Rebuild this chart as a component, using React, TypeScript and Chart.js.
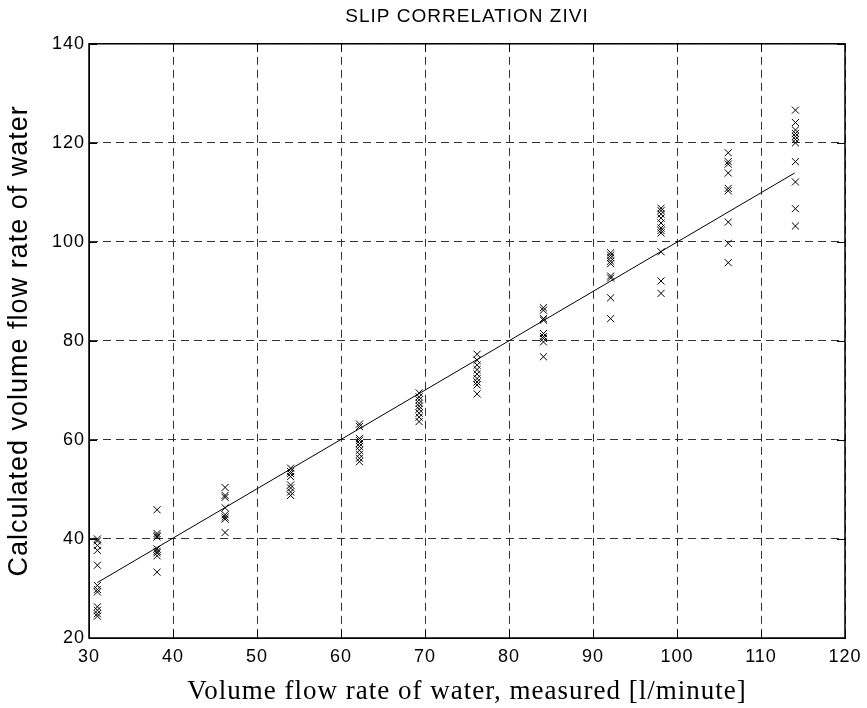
import React, { useEffect, useRef } from "react";
import { Chart, registerables } from "chart.js";

Chart.register(...registerables);

const TITLE = "SLIP CORRELATION ZIVI";
const X_LABEL = "Volume flow rate of water, measured [l/minute]";
const Y_LABEL = "Calculated volume flow rate of water";

// measured flow rates (x positions of clusters)
const measuredFlows = [31.0, 38.1, 46.2, 54.0, 62.2, 69.3, 76.2, 84.1, 92.1, 98.1, 106.1, 114.1];

// calculated values for each measured flow
const calc31 = [40.0, 39.6, 38.7, 37.7, 34.7, 30.6, 29.8, 29.3, 26.3, 25.6, 24.9, 24.4];
const calc38 = [45.9, 41.1, 40.7, 40.4, 38.0, 37.5, 37.2, 36.6, 33.3];
const calc46 = [50.4, 48.8, 48.4, 46.3, 44.9, 44.4, 44.0, 41.3];
const calc54 = [54.3, 53.6, 53.2, 52.6, 50.9, 50.3, 49.5, 48.8];
const calc62 = [63.2, 62.7, 60.3, 59.9, 59.3, 58.7, 57.9, 57.1, 56.3, 55.6];
const calc69 = [69.5, 68.7, 68.1, 67.4, 66.8, 66.2, 65.4, 64.6, 63.7];
const calc76 = [77.3, 76.1, 75.1, 74.2, 73.3, 72.4, 71.7, 71.1, 69.3];
const calc84 = [86.7, 86.2, 84.5, 84.2, 81.5, 80.9, 80.5, 79.8, 76.8];
const calc92 = [97.8, 97.3, 96.8, 96.1, 95.6, 93.1, 92.7, 88.7, 84.5];
const calc98 = [106.8, 106.3, 105.6, 104.8, 103.8, 102.8, 102.3, 101.8, 98.0, 92.1, 89.6];
const calc106 = [118.0, 116.2, 115.7, 113.9, 110.8, 110.3, 104.0, 99.7, 95.8];
const calc114 = [126.6, 124.1, 122.6, 121.9, 121.3, 120.7, 120.0, 116.2, 112.1, 106.7, 103.2];

const calculatedSets = [calc31, calc38, calc46, calc54, calc62, calc69, calc76, calc84, calc92, calc98, calc106, calc114];

// fitted correlation line end points
const fitX = [31.0, 114.0];
const fitY = [31.2, 113.9];

const xTicks = [30, 40, 50, 60, 70, 80, 90, 100, 110, 120];
const yTicks = [20, 40, 60, 80, 100, 120, 140];

const spacingPlugin = {
  id: "letterSpacing",
  beforeUpdate(chart: any) {
    chart.ctx.letterSpacing = "1px";
  },
  beforeDraw(chart: any) {
    chart.ctx.letterSpacing = "1px";
  },
};

const boxPlugin = {
  id: "boxAndTicks",
  afterDraw(chart: any) {
    const { ctx, chartArea } = chart;
    const xs = chart.scales.x;
    const ys = chart.scales.y;
    const len = 8;
    ctx.save();
    ctx.strokeStyle = "#000";
    ctx.lineWidth = 1;
    ctx.setLineDash([]);
    ctx.beginPath();
    for (const v of xTicks) {
      const px = Math.round(xs.getPixelForValue(v)) + 0.5;
      ctx.moveTo(px, chartArea.bottom);
      ctx.lineTo(px, chartArea.bottom - len);
      ctx.moveTo(px, chartArea.top);
      ctx.lineTo(px, chartArea.top + len);
    }
    for (const v of yTicks) {
      const py = Math.round(ys.getPixelForValue(v)) + 0.5;
      ctx.moveTo(chartArea.left, py);
      ctx.lineTo(chartArea.left + len, py);
      ctx.moveTo(chartArea.right, py);
      ctx.lineTo(chartArea.right - len, py);
    }
    ctx.stroke();
    ctx.lineWidth = 1.5;
    ctx.strokeRect(chartArea.left, chartArea.top, chartArea.right - chartArea.left, chartArea.bottom - chartArea.top);
    ctx.restore();
  },
};

export default function App() {
  const ref = useRef<HTMLCanvasElement | null>(null);

  useEffect(() => {
    if (!ref.current) return;
    const points: { x: number; y: number }[] = [];
    measuredFlows.forEach((fx, i) => {
      calculatedSets[i].forEach((v) => points.push({ x: fx, y: v }));
    });
    const line = fitX.map((x, i) => ({ x, y: fitY[i] }));

    const chart = new Chart(ref.current, {
      type: "scatter",
      data: {
        datasets: [
          {
            label: "calculated",
            data: points,
            pointStyle: "crossRot",
            pointRadius: 5,
            borderColor: "#000",
            backgroundColor: "#000",
            borderWidth: 1,
          },
          {
            type: "line",
            label: "fit",
            data: line,
            borderColor: "#000",
            borderWidth: 1,
            pointRadius: 0,
            fill: false,
          } as any,
        ],
      },
      options: {
        responsive: false,
        animation: false,
        layout: { padding: { left: 0, right: 22, top: 0, bottom: 0 } },
        plugins: {
          legend: { display: false },
          tooltip: { enabled: false },
          title: {
            display: true,
            text: TITLE,
            fullSize: false,
            color: "#000",
            font: { family: "Liberation Sans, Arial", size: 19, weight: "normal", lineHeight: 1.2 },
            padding: { top: 5, bottom: 16 },
          },
        },
        scales: {
          x: {
            type: "linear",
            min: 30,
            max: 120,
            afterBuildTicks: (s: any) => {
              s.ticks = xTicks.map((v) => ({ value: v }));
            },
            afterFit: (s: any) => {
              s.height = 70;
              s.paddingLeft = 0;
              s.paddingRight = 0;
            },
            ticks: {
              color: "#000",
              font: { family: "Liberation Sans, Arial", size: 18 },
              padding: 8,
              maxRotation: 0,
            },
            grid: {
              color: "#333",
              lineWidth: 1,
              drawTicks: false,
            },
            border: { display: true, color: "#000", dash: [8, 5] },
            title: {
              display: true,
              text: X_LABEL,
              color: "#000",
              font: { family: "Liberation Serif, Times New Roman", size: 27, lineHeight: 1.2 },
              padding: { top: 0, bottom: 0 },
            },
          },
          y: {
            type: "linear",
            min: 20,
            max: 140,
            afterBuildTicks: (s: any) => {
              s.ticks = yTicks.map((v) => ({ value: v }));
            },
            afterFit: (s: any) => {
              s.width = 89;
              s.paddingTop = 0;
              s.paddingBottom = 0;
            },
            ticks: {
              color: "#000",
              font: { family: "Liberation Sans, Arial", size: 18 },
              padding: 4,
            },
            grid: {
              color: "#333",
              lineWidth: 1,
              drawTicks: false,
            },
            border: { display: true, color: "#000", dash: [8, 5] },
            title: {
              display: true,
              text: Y_LABEL,
              color: "#000",
              font: { family: "Liberation Sans, Arial", size: 27, lineHeight: 1.2 },
              padding: { top: 3, bottom: 0 },
            },
          },
        },
      },
      plugins: [spacingPlugin, boxPlugin],
    });
    return () => chart.destroy();
  }, []);

  return (
    <div style={{ position: "absolute", left: 0, top: 0, width: 867, height: 708, background: "#fff" }}>
      <canvas ref={ref} width={867} height={708} style={{ display: "block" }} />
    </div>
  );
}
